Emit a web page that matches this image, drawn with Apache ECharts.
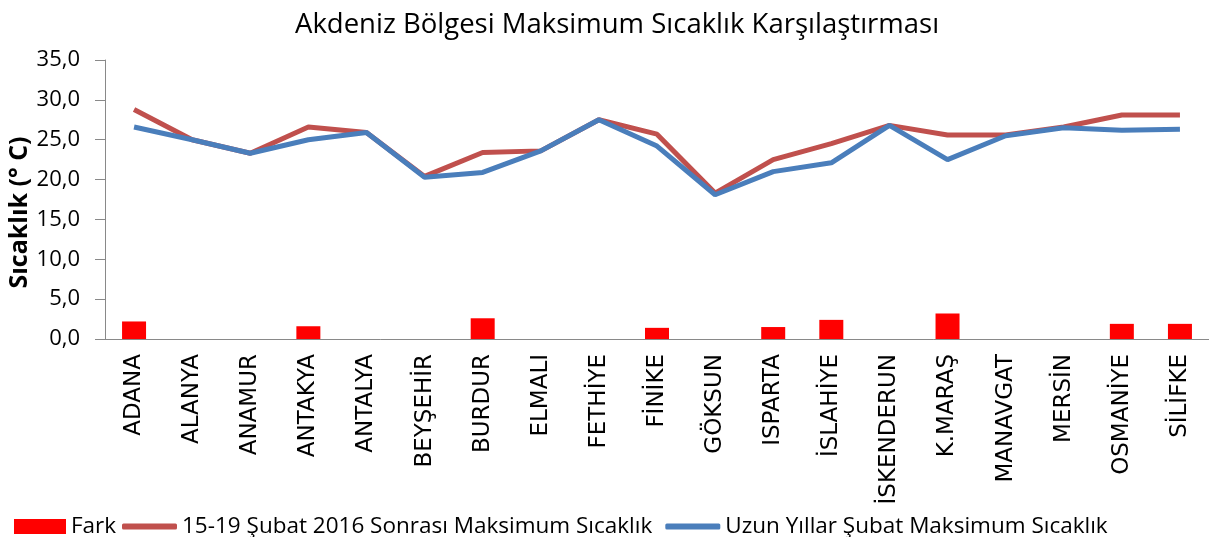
<!DOCTYPE html>
<html>
<head>
<meta charset="utf-8">
<script src="https://cdn.jsdelivr.net/npm/echarts@6/dist/echarts.min.js"></script>
<style>
  html, body { margin: 0; padding: 0; background: #fff; }
  #chart { width: 1209px; height: 537px; }
</style>
</head>
<body>
<div id="chart"></div>
<script>
// istasyonlar
const stations = ['ADANA', 'ALANYA', 'ANAMUR', 'ANTAKYA', 'ANTALYA', 'BEYŞEHİR', 'BURDUR', 'ELMALI', 'FETHİYE', 'FİNİKE',
  'GÖKSUN', 'ISPARTA', 'İSLAHİYE', 'İSKENDERUN', 'K.MARAŞ', 'MANAVGAT', 'MERSİN', 'OSMANİYE', 'SİLİFKE'];
const fark = [2.2, null, null, 1.6, null, null, 2.6, null, null, 1.4,
  null, 1.5, 2.4, null, 3.2, null, null, 1.9, 1.9];
const sonrasi = [28.8, 25.0, 23.3, 26.6, 25.9, 20.4, 23.4, 23.6, 27.5, 25.7,
  18.3, 22.5, 24.5, 26.8, 25.6, 25.6, 26.6, 28.1, 28.1];
const uzunYillar = [26.6, 25.0, 23.3, 25.0, 25.9, 20.3, 20.9, 23.6, 27.5, 24.2,
  18.1, 21.0, 22.1, 26.8, 22.5, 25.5, 26.5, 26.2, 26.3];
const yTicks = [0, 5, 10, 15, 20, 25, 30, 35];

const nameFark = 'Fark';
const nameSonra = '15-19 Şubat 2016 Sonrası Maksimum Sıcaklık';
const nameUzun = 'Uzun Yıllar Şubat Maksimum Sıcaklık';

const font = '"Open Sans", sans-serif';
const chart = echarts.init(document.getElementById('chart'));

chart.setOption({
  animation: false,
  title: {
    text: 'Akdeniz Bölgesi Maksimum Sıcaklık Karşılaştırması',
    left: 290,
    top: 6,
    textStyle: { fontFamily: font, fontSize: 27.5, fontWeight: 'normal', color: '#000' },
  },
  grid: { left: 105, right: 0, top: 60, bottom: 198, containLabel: false, outerBoundsMode: 'none' },
  legend: [
    {
      left: 9,
      top: 510,
      itemWidth: 52,
      itemHeight: 15,
      textStyle: { fontFamily: font, fontSize: 22.5, color: '#000' },
      data: [{ name: nameFark, icon: 'rect' }],
    },
    {
      left: 117,
      top: 510,
      itemWidth: 55,
      itemHeight: 6,
      itemGap: 13,
      textStyle: { fontFamily: font, fontSize: 22.5, color: '#000' },
      data: [
        { name: nameSonra, icon: 'roundRect' },
        { name: nameUzun, icon: 'roundRect' },
      ],
    },
  ],
  xAxis: {
    type: 'category',
    data: stations,
    axisTick: { show: false },
    axisLine: { lineStyle: { color: '#898989', width: 1 } },
    axisLabel: {
      interval: 0,
      rotate: 90,
      margin: 15,
      fontFamily: '"DejaVu Sans", sans-serif',
      fontSize: 23,
      color: '#000',
    },
  },
  yAxis: {
    type: 'value',
    min: yTicks[0],
    max: yTicks[yTicks.length - 1],
    interval: 5,
    name: 'Sıcaklık (° C)',
    nameLocation: 'middle',
    nameGap: 73,
    nameMoveOverlap: false,
    nameTextStyle: { fontFamily: font, fontSize: 25, fontWeight: 'bold', color: '#000', padding: [0, 26, 0, 0] },
    axisLine: { show: true, lineStyle: { color: '#898989', width: 1 } },
    axisTick: { show: true, inside: false, length: 10, lineStyle: { color: '#898989' } },
    splitLine: { show: false },
    axisLabel: {
      margin: 25,
      fontFamily: font,
      fontSize: 22,
      color: '#000',
      formatter: (v) => v.toFixed(1).replace('.', ','),
    },
  },
  series: [
    {
      name: nameFark,
      type: 'bar',
      data: fark,
      barWidth: 24,
      itemStyle: { color: '#FF0000' },
    },
    {
      name: nameSonra,
      type: 'line',
      data: sonrasi,
      symbol: 'none',
      lineStyle: { color: '#C0504D', width: 5 },
      itemStyle: { color: '#C0504D' },
    },
    {
      name: nameUzun,
      type: 'line',
      data: uzunYillar,
      symbol: 'none',
      lineStyle: { color: '#4A7EBB', width: 5 },
      itemStyle: { color: '#4A7EBB' },
    },
  ],
});
</script>
</body>
</html>
